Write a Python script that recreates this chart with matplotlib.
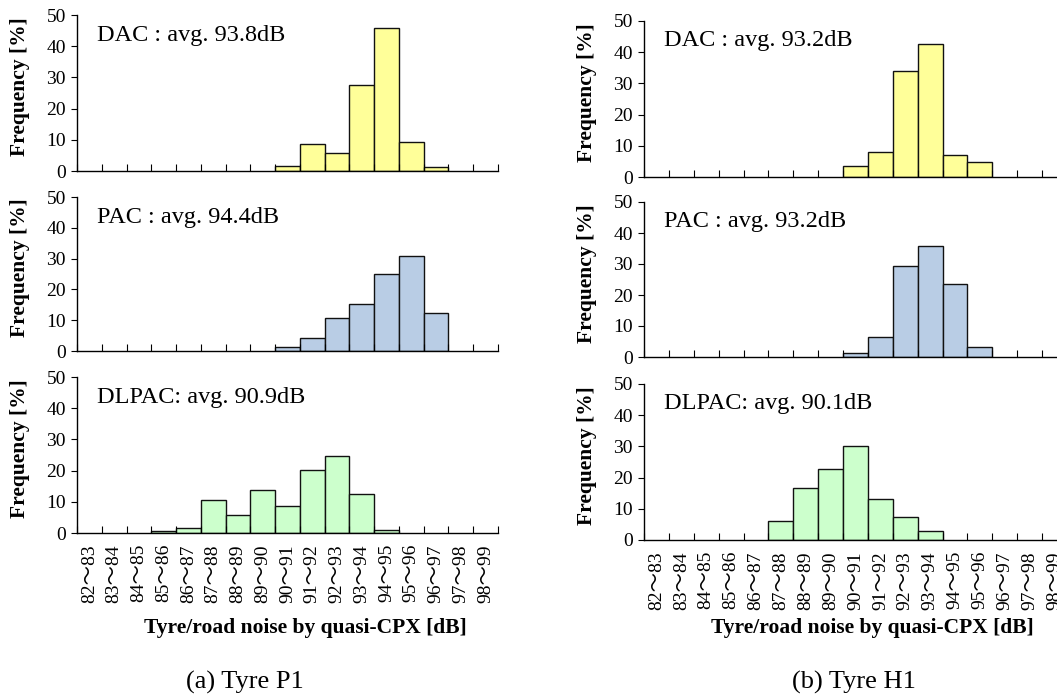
import numpy as np
import matplotlib
matplotlib.use('Agg')
import matplotlib.pyplot as plt

plt.rcParams['font.family'] = ['Liberation Serif', 'Noto Sans CJK JP']

# noise classes in dB (82~83 ... 98~99)
bins = ['%d～%d' % (lo, lo + 1) for lo in range(82, 99)]

# Tyre P1, frequency in %
p1_dac = [0, 0, 0, 0, 0, 0, 0, 0, 1.6, 8.5, 5.9, 27.7, 45.8, 9.3, 1.4, 0, 0]
p1_pac = [0, 0, 0, 0, 0, 0, 0, 0, 1.3, 4.2, 10.6, 15.4, 25.1, 31.0, 12.4, 0, 0]
p1_dlpac = [0, 0, 0, 0.6, 1.5, 10.5, 5.9, 13.8, 8.5, 20.3, 24.6, 12.5, 1.0, 0, 0, 0, 0]

# Tyre H1, frequency in %
h1_dac = [0, 0, 0, 0, 0, 0, 0, 0, 3.6, 7.9, 34.0, 42.7, 7.2, 4.9, 0, 0, 0]
h1_pac = [0, 0, 0, 0, 0, 0, 0, 0, 1.4, 6.5, 29.3, 35.8, 23.6, 3.2, 0, 0, 0]
h1_dlpac = [0, 0, 0, 0, 0, 6.2, 16.8, 22.7, 30.0, 13.2, 7.3, 2.9, 0, 0, 0, 0, 0]

p1_labels = ['DAC : avg. 93.8dB', 'PAC : avg. 94.4dB', 'DLPAC: avg. 90.9dB']
h1_labels = ['DAC : avg. 93.2dB', 'PAC : avg. 93.2dB', 'DLPAC: avg. 90.1dB']
colors = ['#FFFF99', '#B9CDE5', '#CCFFCC']

W, H = 1057, 697
fig = plt.figure(figsize=(W / 100.0, H / 100.0), dpi=100)


def make_axes(left, top, bottom, width):
    return fig.add_axes([left / W, (H - bottom) / H, width / W, (bottom - top) / H])


def draw_panel(ax, values, color, label, show_xlabels):
    x = np.arange(len(values))
    keep = [i for i in range(len(values)) if values[i] > 0]
    ax.bar(x[keep], [values[i] for i in keep], width=1.0, align='edge',
           color=color, edgecolor='#111111', linewidth=1.0)
    ax.set_xlim(0, len(values))
    ax.set_ylim(0, 50)
    ax.set_yticks([0, 10, 20, 30, 40, 50])
    ax.tick_params(axis='y', direction='out', length=4, width=0.8, pad=4, labelsize=14)
    # boundary ticks point up, labels sit on minor ticks at bin centres
    ax.set_xticks(np.arange(len(values) + 1))
    ax.set_xticklabels([])
    ax.tick_params(axis='x', which='major', direction='in', length=5, width=0.8)
    ax.set_xticks(x + 0.5, minor=True)
    if show_xlabels:
        ax.set_xticklabels(bins, minor=True, rotation=90, fontsize=14)
    else:
        ax.set_xticklabels([], minor=True)
    ax.tick_params(axis='x', which='minor', length=0, pad=8)
    for side in ['top', 'right']:
        ax.spines[side].set_visible(False)
    for side in ['left', 'bottom']:
        ax.spines[side].set_linewidth(1.0)
    ax.set_ylabel('Frequency [%]', fontsize=15.5, fontweight='bold')
    ax.yaxis.set_label_coords(-0.112, 0.54)
    ax.annotate(label, xy=(0, 1), xycoords='axes fraction', xytext=(20, -20),
                textcoords='offset pixels', ha='left', va='center', fontsize=17.5)


left_rows = [(15, 171), (197, 351), (377, 533)]
right_rows = [(21, 177), (202, 357), (384, 540)]
p1_data = [p1_dac, p1_pac, p1_dlpac]
h1_data = [h1_dac, h1_pac, h1_dlpac]

for k in range(3):
    ax = make_axes(77, left_rows[k][0], left_rows[k][1], 421)
    draw_panel(ax, p1_data[k], colors[k], p1_labels[k], k == 2)
    # right column runs past the figure edge, as in the original
    ax = make_axes(644, right_rows[k][0], right_rows[k][1], 423)
    draw_panel(ax, h1_data[k], colors[k], h1_labels[k], k == 2)

xlab = 'Tyre/road noise by quasi-CPX [dB]'
fig.text(305 / W, 1 - 628 / H, xlab, ha='center', va='center', fontsize=15.5, fontweight='bold')
fig.text(872 / W, 1 - 628 / H, xlab, ha='center', va='center', fontsize=15.5, fontweight='bold')
fig.text(245 / W, 1 - 682 / H, '(a) Tyre P1', ha='center', va='center', fontsize=19)
fig.text(854 / W, 1 - 682 / H, '(b) Tyre H1', ha='center', va='center', fontsize=19)

fig.savefig('out.png', dpi=100)
